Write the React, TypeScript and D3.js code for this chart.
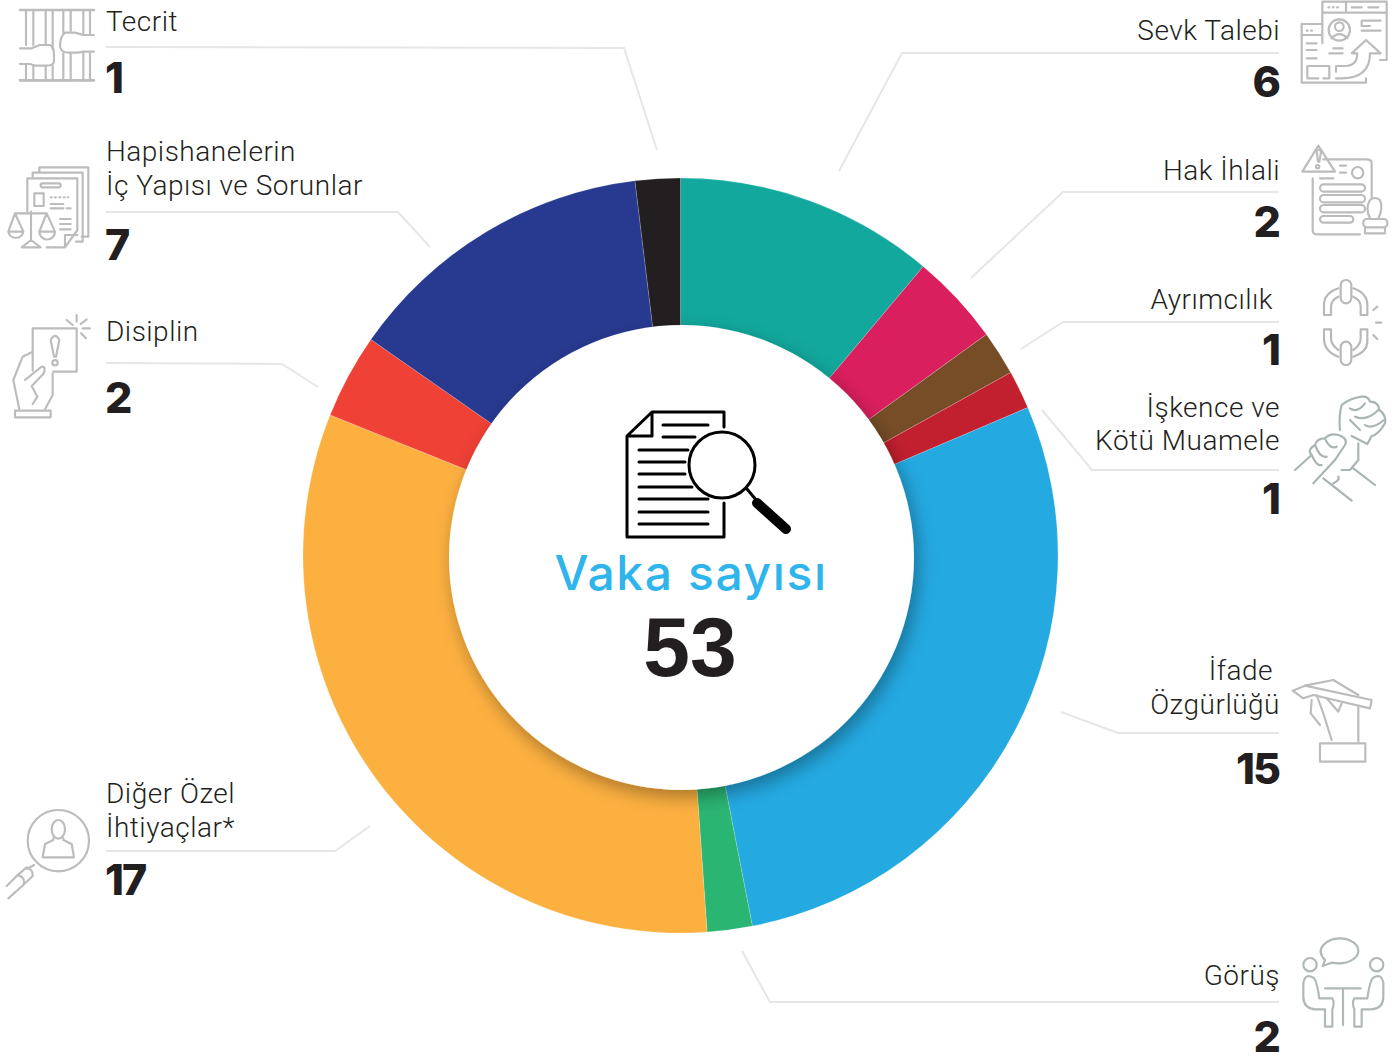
import React from "react";
import * as d3 from "d3";

const categories = ["Sevk Talebi","Hak İhlali","Ayrımcılık","İşkence ve Kötü Muamele","İfade Özgürlüğü","Görüş","Diğer Özel İhtiyaçlar*","Disiplin","Hapishanelerin İç Yapısı ve Sorunlar","Tecrit"];
const sliceValues = [5.89,2.08,1.01,0.87,15.03,1.02,17.06,1.92,7.09,1.02];
const sliceColors = ["#12A89D","#DA1F5E","#774D27","#C21F2F","#24A9E1","#2BB573","#FCB040","#EF4136","#283A90","#231F20"];
const centerTitle = "Vaka sayısı";
const centerTotal = "53";

type Lab = {lines:string[];ys:number[];value:string;vy:number;x:number;anchor:"start"|"end";rx?:number;leader:[number,number][]};
const labels: Lab[] = [
 {lines:["Tecrit"],ys:[31],value:"1",vy:93,x:106,anchor:"start",leader:[[106,47],[624,48],[657,150]]},
 {lines:["Hapishanelerin","İç Yapısı ve Sorunlar"],ys:[161,195],value:"7",vy:260,x:106,anchor:"start",leader:[[106,212],[398,212],[430,247]]},
 {lines:["Disiplin"],ys:[341],value:"2",vy:413,x:106,anchor:"start",leader:[[106,363],[282,364],[318,387]]},
 {lines:["Diğer Özel","İhtiyaçlar*"],ys:[803,837],value:"17",vy:895,x:106,anchor:"start",leader:[[106,851],[335,851],[370,826]]},
 {lines:["Sevk Talebi"],ys:[40],value:"6",vy:97,x:1279,anchor:"end",leader:[[1279,53],[902,53],[839,171]]},
 {lines:["Hak İhlali"],ys:[180],value:"2",vy:237,x:1279,anchor:"end",leader:[[1279,192],[1063,192],[971,278]]},
 {lines:["Ayrımcılık"],ys:[309],value:"1",vy:365,x:1279,anchor:"end",rx:1272,leader:[[1279,322],[1063,322],[1021,349]]},
 {lines:["İşkence ve","Kötü Muamele"],ys:[417,450],value:"1",vy:514,x:1279,anchor:"end",leader:[[1279,470],[1092,470],[1042,410]]},
 {lines:["İfade","Özgürlüğü"],ys:[680,714],value:"15",vy:784,x:1279,anchor:"end",rx:1272,leader:[[1279,733],[1118,733],[1061,712]]},
 {lines:["Görüş"],ys:[985],value:"2",vy:1052,x:1279,anchor:"end",leader:[[1279,1002],[770,1002],[742,951]]},
];

const CX = 680.5, CY = 555.5, R = 377.5, r = 232.5;
const HX = 681.5, HY = 557.5;
const leaderLine = d3.line();
const LABEL_FONT = "Roboto, sans-serif";
const NUM_FONT = "Inter, sans-serif";

const Icon = ({x,y,color="#bcbcbc",children}:{x:number;y:number;color?:string;children:React.ReactNode}) => (
  <g transform={`translate(${x},${y}) scale(${1/3})`} fill="none" stroke={color} strokeWidth={6.5} strokeLinecap="round" strokeLinejoin="round">{children}</g>
);

const Icons = () => (<g>
  {/* Tecrit */}
  <Icon x={0} y={0}>
    <path d="M60 30H282M60 241H282" strokeWidth={8}/>
    <path d="M78 30V135M100 30V135M137 30V135M158 30V148M78 195V241M100 195V241M137 198V241M158 198V241M190 30V100M212 30V95M250 30V100M270 30V100M190 160V241M212 160V241M250 160V241M270 160V241"/>
    <path d="M60 145H95L120 135H150Q162 140 162 165V185Q160 197 140 197H105L90 192H60"/>
    <path d="M282 105H250L225 98H195Q180 110 180 140Q185 158 205 158H235L250 155H282"/>
  </Icon>
  {/* Hapishane */}
  <Icon x={0} y={0}>
    <path d="M118 518V502H265V710H245M98 532V518H248V725H228"/>
    <path d="M82 640V535H232V690L195 742H140M195 742V705H232"/>
    <rect x={122} y={550} width={60} height={12} rx={6}/><rect x={103} y={580} width={28} height={38}/>
    <path d="M152 592H205" strokeDasharray="3 10"/>
    <path d="M152 612H190M152 625H190M200 625H212M180 657H212M180 672H212M180 688H212"/>
    <path d="M93 635V720M93 720L65 742H122ZM45 640H140M25 695L45 640L70 695ZM25 695A23 23 0 0 0 70 695M118 695L140 640L165 695ZM118 695A23 23 0 0 0 165 695"/>
  </Icon>
  {/* Disiplin */}
  <Icon x={0} y={300}>
    <path d="M98 155V85H230V215H160M98 155V212"/>
    <path d="M152 120Q165 95 178 120L168 170H162Z"/><circle cx={165} cy={188} r={8}/>
    <path d="M200 60L218 75M230 45V65M260 58L242 72M270 85H248M258 115L243 100"/>
    <path d="M98 155L68 170L40 240L58 328M75 240L125 200Q140 200 130 222L95 258L112 290L98 312M158 220V285L135 328"/>
    <rect x={45} y={332} width={107} height={20}/>
  </Icon>
  {/* Diger */}
  <Icon x={0} y={770}>
    <circle cx={175} cy={212} r={92}/><ellipse cx={175} cy={178} rx={20} ry={28}/>
    <path d="M160 205V210L135 222L128 262H222L215 222L190 210V205"/>
    <path d="M102 285L82 297M80 292L48 320L20 348M98 318L70 345L25 385M55 316Q78 322 70 345M80 292Q100 300 98 318"/>
  </Icon>
  {/* Sevk */}
  <Icon x={1270} y={0}>
    <path d="M157 130V5H350V180H330M157 38H350M228 5V38M245 22H275M295 22H325"/>
    <path d="M175 22H210" strokeDasharray="3 10"/>
    <circle cx={208} cy={90} r={32}/><circle cx={208} cy={80} r={13}/><path d="M185 115Q208 90 232 115"/>
    <path d="M275 62H332M275 62V78H300M275 92H332M190 145H218M178 160H218"/>
    <path d="M198 215V198H225Q262 198 262 160H245L288 120L332 160H300Q300 235 215 235H198"/>
    <path d="M157 72H95V248H288V235M95 105H155M110 130H140M110 150H140M110 175H140M160 235H178V198H112V235H145"/>
    <path d="M110 92H135" strokeDasharray="3 10"/>
  </Icon>
  {/* Hak */}
  <Icon x={1270} y={0}>
    <path d="M145 437L97 515H195Z"/><path d="M140 455Q147 443 153 455L148 485H144Z"/><circle cx={143} cy={500} r={5}/>
    <path d="M210 497H228M210 518H228M150 535H190" />
    <path d="M160 478H290Q305 478 305 490V595M128 535V690Q128 703 140 703H270"/>
    <circle cx={263} cy={518} r={17}/>
    <rect x={150} y={553} width={135} height={22} rx={11}/><rect x={150} y={585} width={135} height={22} rx={11}/><rect x={150} y={615} width={135} height={22} rx={11}/><rect x={150} y={648} width={100} height={20} rx={10}/>
    <path d="M300 655Q285 625 300 600Q315 588 330 600Q340 625 325 655"/>
    <rect x={280} y={657} width={72} height={25} rx={10}/><path d="M285 682V700H345V682"/>
  </Icon>
  {/* Ayrımcılık */}
  <Icon x={1270} y={270} color="#b8b8b8">
    <rect x={212} y={30} width={32} height={70} rx={16}/><rect x={212} y={215} width={32} height={70} rx={16}/>
    <path d="M162 135V105Q162 70 205 55M250 55Q292 70 292 105V135H272V110Q272 90 250 80M205 80Q183 90 183 110V135H162"/>
    <path d="M162 178V205Q162 245 205 260M250 260Q292 245 292 215V178H272V205Q272 225 250 240M205 240Q183 225 183 205V178H162"/>
    <path d="M310 120L322 110M318 158H334M310 195L322 207"/>
  </Icon>
  {/* Iskence */}
  <Icon x={1270} y={270} color="#aab4b4">
    <path d="M210 480Q206 435 215 405Q240 385 275 380Q295 378 300 395Q325 395 328 420Q350 435 345 460Q325 495 305 498L292 522L245 498"/>
    <path d="M240 415Q262 430 285 400M255 440Q290 455 325 420M285 465Q305 480 342 450M240 450L270 480"/>
    <path d="M75 600L125 555Q110 540 135 525Q140 505 165 505Q180 488 205 495Q235 505 225 525L195 570L130 640"/>
    <path d="M125 555Q140 590 155 585M135 525Q150 565 170 560M165 505Q180 540 200 530"/>
    <path d="M265 520V570L240 600H215M250 595L315 645M160 625L245 692M190 640Q210 630 205 620"/>
  </Icon>
  {/* Ifade */}
  <Icon x={1270} y={670}>
    <path d="M105 47L190 30L265 75"/>
    <path d="M68 62L105 47L305 90L300 115L130 75L100 85Z"/>
    <path d="M125 90L122 130L150 165M140 75L160 130L185 210M170 85L205 125L215 100M265 112V215"/>
    <rect x={150} y={220} width={136} height={55}/>
  </Icon>
  {/* Gorus */}
  <Icon x={1270} y={930} color="#b0b8b8">
    <path d="M165 90C130 55 175 25 208 25C245 25 265 45 265 62C265 85 235 100 208 100Q195 100 185 98L158 108Z"/>
    <circle cx={120} cy={104} r={20}/><circle cx={320} cy={104} r={20}/>
    <path d="M100 160V200Q100 235 135 238H165V290H187V238Q195 220 187 205H148Q140 150 130 143Q105 128 100 160Z"/>
    <g transform="translate(440,0) scale(-1,1)"><path d="M100 160V200Q100 235 135 238H165V290H187V238Q195 220 187 205H148Q140 150 130 143Q105 128 100 160Z"/></g>
    <path d="M165 175H272M219 175V285"/>
  </Icon>
</g>);

export default function App() {
  const pie = d3.pie<number>().sort(null).value(d=>d);
  const arc = d3.arc<d3.PieArcDatum<number>>().innerRadius(r-4).outerRadius(R);
  const arcs = pie(sliceValues);
  return (
    <svg width={1399} height={1057} style={{position:"absolute",left:0,top:0,background:"#fff"}}>
      <defs>
        <filter id="holeShadow" x="-20%" y="-20%" width="140%" height="140%">
          <feDropShadow dx={4} dy={7} stdDeviation={9} floodColor="#000" floodOpacity={0.33}/>
        </filter>
      </defs>
      <g transform={`translate(${CX},${CY})`}>
        {arcs.map((a,i)=><path key={categories[i]} d={arc(a)!} fill={sliceColors[i]} stroke="#fff" strokeOpacity={0.35} strokeWidth={0.5}/>)}
      </g>
      <circle cx={HX} cy={HY} r={r} fill="#fff" filter="url(#holeShadow)"/>
      {/* document icon */}
      <g fill="none" stroke="#000" strokeWidth={3} strokeLinecap="round" strokeLinejoin="round">
        <path d="M724 427V412H652L627 436V537H724V503M652 412V436H627"/>
        <path d="M663 425H708M663 437H695M639 450H688M639 462H685M639 474H685M639 487H692M639 499H708M639 512H708M639 524H708" strokeWidth={3}/>
        <circle cx={722} cy={465} r={33}/>
        <path d="M747 489L757 501"/>
        <path d="M757 503L786 529" strokeWidth={10}/>
      </g>
      <text x={691} y={590} textAnchor="middle" fontFamily="Inter, sans-serif" fontWeight={500} fontSize={48} letterSpacing={1.6} fill="#2FB5EC">{centerTitle}</text>
      <text x={690} y={676} textAnchor="middle" fontFamily="'Liberation Sans', sans-serif" fontWeight={700} fontSize={84} fill="#231F20">{centerTotal}</text>
      {labels.map(l=>{
        const isEnd = l.anchor==="end";
        const multi = l.value.length>1;
        const numX = isEnd ? 1281-(multi?2:0) : 105;
        return (
        <g key={l.lines[0]}>
          <path d={leaderLine(l.leader)!} fill="none" stroke="#e6e6e6" strokeWidth={2}/>
          {l.lines.map((t,i)=>(
            <text key={t} x={((t==="Ayrımcılık"||t==="İfade")?(l.rx??l.x):l.x)+(isEnd?1:0)} y={l.ys[i]} textAnchor={l.anchor} fontFamily={LABEL_FONT} fontWeight={300} fontSize={28} letterSpacing={0.5} fill="#231F20">{t}</text>
          ))}
          <text x={numX} y={l.vy} textAnchor={l.anchor} fontFamily={NUM_FONT} fontWeight={800} fontSize={43} letterSpacing={multi?-2:0} fill="#231F20">{l.value}</text>
        </g>
        );
      })}
      <Icons/>
    </svg>
  );
}
